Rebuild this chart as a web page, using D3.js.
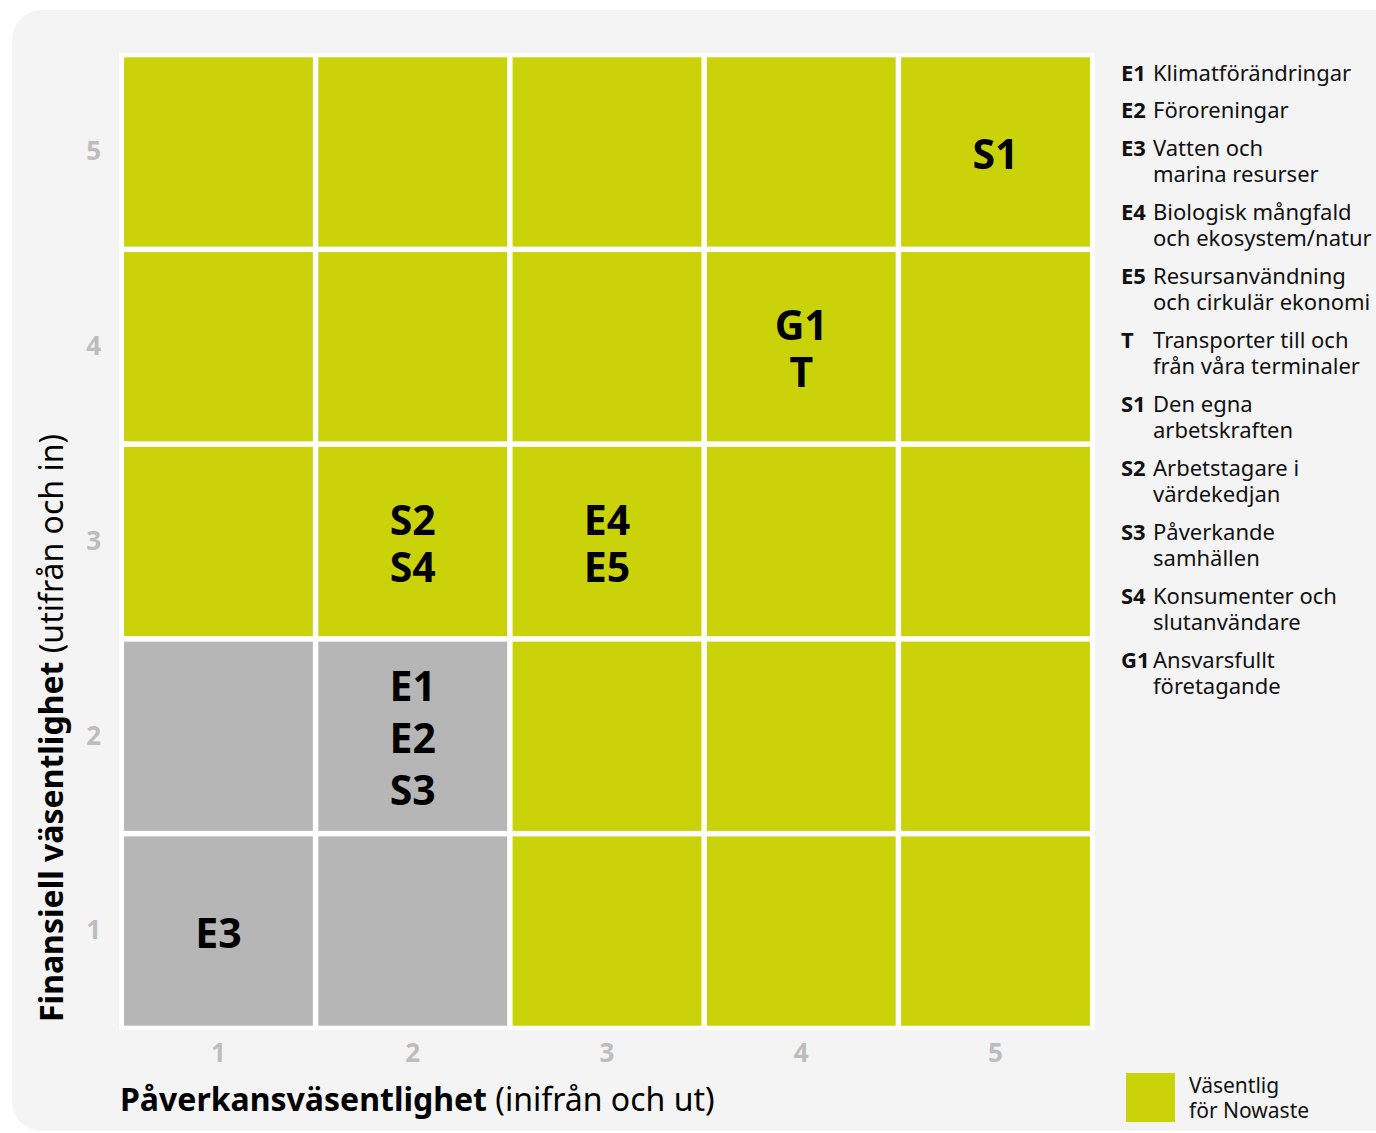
<!DOCTYPE html>
<html>
<head>
<meta charset="utf-8">
<script src="https://cdn.jsdelivr.net/npm/d3@7"></script>
<style>
  html, body { margin: 0; padding: 0; background: #fff; }
  svg { display: block; font-family: "Noto Sans", sans-serif; }
</style>
</head>
<body>
<svg id="matrix" width="1376" height="1133"></svg>
<script>
// axis categories
const impactTicks = [1, 2, 3, 4, 5];
const financialTicks = [5, 4, 3, 2, 1];

// cell status, rows = financial 5..1, columns = impact 1..5 (1 = väsentlig)
const cellStatus = [
  [1, 1, 1, 1, 1],
  [1, 1, 1, 1, 1],
  [1, 1, 1, 1, 1],
  [0, 0, 1, 1, 1],
  [0, 0, 1, 1, 1]
];

// topics, in the order they are stacked inside a cell
const topicCodes     = ["S1", "G1", "T", "S2", "S4", "E4", "E5", "E1", "E2", "S3", "E3"];
const topicImpact    = [5, 4, 4, 2, 2, 3, 3, 2, 2, 2, 1];
const topicFinancial = [5, 4, 4, 3, 3, 3, 3, 2, 2, 2, 1];

// legend list
const legendCodes = ["E1", "E2", "E3", "E4", "E5", "T", "S1", "S2", "S3", "S4", "G1"];
const legendNames = [
  ["Klimatförändringar"],
  ["Föroreningar"],
  ["Vatten och", "marina resurser"],
  ["Biologisk mångfald", "och ekosystem/natur"],
  ["Resursanvändning", "och cirkulär ekonomi"],
  ["Transporter till och", "från våra terminaler"],
  ["Den egna", "arbetskraften"],
  ["Arbetstagare i", "värdekedjan"],
  ["Påverkande", "samhällen"],
  ["Konsumenter och", "slutanvändare"],
  ["Ansvarsfullt", "företagande"]
];

const GREEN = "#cad30a";
const GREY = "#b6b6b6";

const svg = d3.select("#matrix");

// panel background
svg.append("rect")
  .attr("x", 12).attr("y", 10)
  .attr("width", 1394).attr("height", 1121)
  .attr("rx", 30)
  .attr("fill", "#f4f4f4");

const x = d3.scaleBand()
  .domain(impactTicks)
  .range([119, 1095])
  .paddingInner(0.028)
  .paddingOuter(0.026);

const y = d3.scaleBand()
  .domain(financialTicks)
  .range([53, 1030])
  .paddingInner(0.028)
  .paddingOuter(0.022);

// white frame behind grid
svg.append("rect")
  .attr("x", 119).attr("y", 53)
  .attr("width", 976).attr("height", 977)
  .attr("fill", "#fff");

const cells = [];
financialTicks.forEach((f, r) => {
  impactTicks.forEach((i, c) => {
    cells.push({ impact: i, financial: f, status: cellStatus[r][c] });
  });
});

svg.append("g")
  .selectAll("rect")
  .data(cells)
  .join("rect")
    .attr("x", d => x(d.impact))
    .attr("y", d => y(d.financial))
    .attr("width", x.bandwidth())
    .attr("height", y.bandwidth())
    .attr("fill", d => d.status ? GREEN : GREY);

// topic labels grouped per cell
const groups = d3.groups(
  topicCodes.map((code, k) => ({ code, impact: topicImpact[k], financial: topicFinancial[k] })),
  d => d.impact + "-" + d.financial
);

const labels = svg.append("g")
  .attr("font-size", 41)
  .attr("font-weight", "bold")
  .attr("fill", "#000")
  .attr("text-anchor", "middle");

groups.forEach(([key, items]) => {
  const n = items.length;
  const lh = n === 3 ? 52 : 47;
  const cx = x(items[0].impact) + x.bandwidth() / 2;
  const cy = y(items[0].financial) + y.bandwidth() / 2;
  const t = labels.append("text");
  items.forEach((d, k) => {
    t.append("tspan")
      .attr("x", cx)
      .attr("y", cy + 2 + (k - (n - 1) / 2) * lh)
      .attr("dy", "0.36em")
      .text(d.code);
  });
});

// axes
const xAxis = svg.append("g")
  .attr("transform", "translate(0,1030)")
  .call(d3.axisBottom(x).tickSize(0).tickPadding(14));
const yAxis = svg.append("g")
  .attr("transform", "translate(119,0)")
  .call(d3.axisLeft(y).tickSize(0).tickPadding(18));

[xAxis, yAxis].forEach(a => {
  a.select(".domain").remove();
  a.selectAll("text")
    .attr("font-family", "Noto Sans, sans-serif")
    .attr("font-size", 26)
    .attr("font-weight", "bold")
    .attr("fill", "#bdbdbd");
});

// axis titles
const xTitle = svg.append("text")
  .attr("x", 120).attr("y", 1111)
  .attr("font-size", 32)
  .attr("fill", "#000");
xTitle.append("tspan").attr("font-weight", "bold").text("Påverkansväsentlighet");
xTitle.append("tspan").text(" (inifrån och ut)");

const yTitle = svg.append("text")
  .attr("transform", "translate(63,1022) rotate(-90)")
  .attr("font-size", 32)
  .attr("fill", "#000");
yTitle.append("tspan").attr("font-weight", "bold").text("Finansiell väsentlighet");
yTitle.append("tspan").text(" (utifrån och in)");

// legend list
const legendTop = [81, 118, 156, 220, 284, 348, 412, 476, 540, 604, 668];
const list = svg.append("g").attr("font-size", 22).attr("fill", "#111");
legendCodes.forEach((code, k) => {
  list.append("text")
    .attr("x", 1121).attr("y", legendTop[k])
    .attr("font-weight", "bold")
    .text(code);
  legendNames[k].forEach((line, j) => {
    list.append("text")
      .attr("x", 1153).attr("y", legendTop[k] + j * 26)
      .text(line);
  });
});

// colour key
svg.append("rect")
  .attr("x", 1126).attr("y", 1073)
  .attr("width", 49).attr("height", 49)
  .attr("fill", GREEN);
svg.append("text")
  .attr("x", 1189).attr("y", 1093)
  .attr("font-size", 21)
  .attr("fill", "#111")
  .text("Väsentlig");
svg.append("text")
  .attr("x", 1189).attr("y", 1118)
  .attr("font-size", 21)
  .attr("fill", "#111")
  .text("för Nowaste");
</script>
</body>
</html>
